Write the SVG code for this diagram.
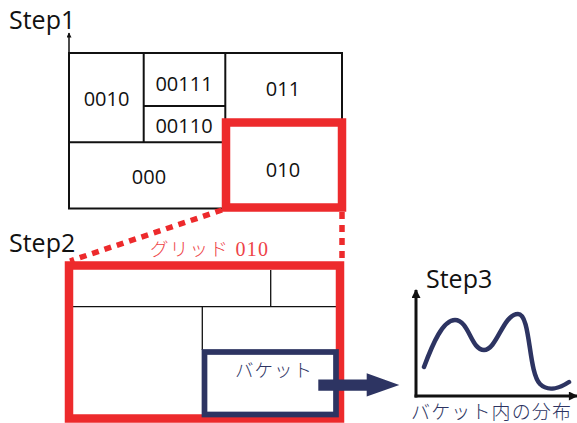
<svg xmlns="http://www.w3.org/2000/svg" width="577" height="423" viewBox="0 0 577 423">
  <style>
    .step { font-family: "Open Sans", "Noto Sans", sans-serif; font-size: 25px; fill: #111; }
    .code { font-family: "Open Sans", "Noto Sans", sans-serif; font-size: 20px; fill: #111; text-anchor: middle; }
    .grid { fill: none; stroke: #111; stroke-width: 2; }
    .thin { fill: none; stroke: #111; stroke-width: 1.3; }
    .hl { fill: none; stroke: #ED2A2C; stroke-width: 8.5; }
    .dash { fill: none; stroke: #ED2A2C; stroke-width: 5.5; stroke-dasharray: 7 6; }
    .bucket { fill: none; stroke: #2D3462; stroke-width: 5.7; }
    .jp { font-family: "Liberation Serif", "Noto Sans CJK JP", serif; font-weight: 300; }
    .axis { stroke: #111; stroke-width: 3; fill: none; }
  </style>
  <defs>
    <marker id="tipSmall" viewBox="0 0 10 10" refX="9" refY="5" markerWidth="6" markerHeight="5" orient="auto" markerUnits="userSpaceOnUse">
      <path d="M0,0 L10,5 L0,10 z" fill="#111"/>
    </marker>
    <marker id="tipAxis" viewBox="0 0 10 10" refX="9" refY="5" markerWidth="10" markerHeight="9" orient="auto" markerUnits="userSpaceOnUse">
      <path d="M0,0 L10,5 L0,10 z" fill="#111"/>
    </marker>
  </defs>

  <!-- Step 1: partitioned grid -->
  <g id="step1">
    <text class="step" x="9" y="29">Step1</text>
    <line x1="69" y1="209" x2="69" y2="33" stroke="#111" stroke-width="1.5" marker-end="url(#tipSmall)"/>
    <rect class="grid" x="69" y="53" width="273" height="155.5"/>
    <line class="grid" x1="69" y1="142.3" x2="226" y2="142.3"/>
    <line class="grid" x1="143.7" y1="53" x2="143.7" y2="142.3"/>
    <line class="grid" x1="225.3" y1="53" x2="225.3" y2="122"/>
    <line class="grid" x1="143.7" y1="106" x2="225.3" y2="106"/>
  </g>
  <g id="cell-0010"><text class="code" x="106.5" y="106">0010</text></g>
  <g id="cell-00111"><text class="code" x="184" y="90.5">00111</text></g>
  <g id="cell-00110"><text class="code" x="184" y="133">00110</text></g>
  <g id="cell-011"><text class="code" x="283" y="95.5">011</text></g>
  <g id="cell-000"><text class="code" x="149" y="184">000</text></g>
  <g id="cell-010">
    <rect class="hl" x="226" y="122.5" width="116" height="85"/>
    <text class="code" x="283" y="176.5">010</text>
  </g>

  <!-- Step 2: zoomed grid cell 010 -->
  <g id="step2">
    <text class="step" x="9" y="251.5">Step2</text>
    <line class="thin" x1="73" y1="306.7" x2="336" y2="306.7"/>
    <line class="thin" x1="270.7" y1="270" x2="270.7" y2="306.7"/>
    <line class="thin" x1="202.3" y1="306.7" x2="202.3" y2="350"/>
    <rect class="hl" x="69" y="265.5" width="271" height="153"/>
    <text class="jp" x="150" y="256" font-size="18.5" fill="#EE4347" textLength="118" lengthAdjust="spacing">グリッド<tspan font-size="20"> 010</tspan></text>
  </g>

  <g id="bucket">
    <rect class="bucket" x="204.5" y="352" width="131.5" height="62.5"/>
    <text class="jp" x="235" y="377" font-size="18.5" fill="#2D3462" textLength="77" lengthAdjust="spacing">バケット</text>
  </g>

  <!-- Step 3: distribution inside the bucket -->
  <g id="step3">
    <text class="step" x="426" y="287.5">Step3</text>
    <line class="axis" x1="416" y1="397.5" x2="416" y2="290" marker-end="url(#tipAxis)"/>
    <line class="axis" x1="414.5" y1="396" x2="577" y2="396" marker-end="url(#tipAxis)"/>
    <path d="M424,367 C433,343 443,320 455,320 C469,320 471,350 484,350 C497,350 503,314 518,314 C531,314 528,372 540,384 C548,392 560,388 569,382" fill="none" stroke="#2D3462" stroke-width="4.5" stroke-linecap="round"/>
    <text class="jp" x="411" y="418.5" font-size="19" fill="#2D3462" textLength="160" lengthAdjust="spacing">バケット内の分布</text>
  </g>

  <!-- Connectors -->
  <g id="connectors">
    <line class="dash" x1="222" y1="210" x2="70" y2="261"/>
    <line class="dash" x1="342" y1="212" x2="342" y2="262" stroke-width="6" stroke-dasharray="8 6"/>
    <path d="M318.3,379.5 H366.7 V373.3 L399.3,385 L366.7,396.5 V390.7 H318.3 z" fill="#2D3462"/>
  </g>
</svg>
